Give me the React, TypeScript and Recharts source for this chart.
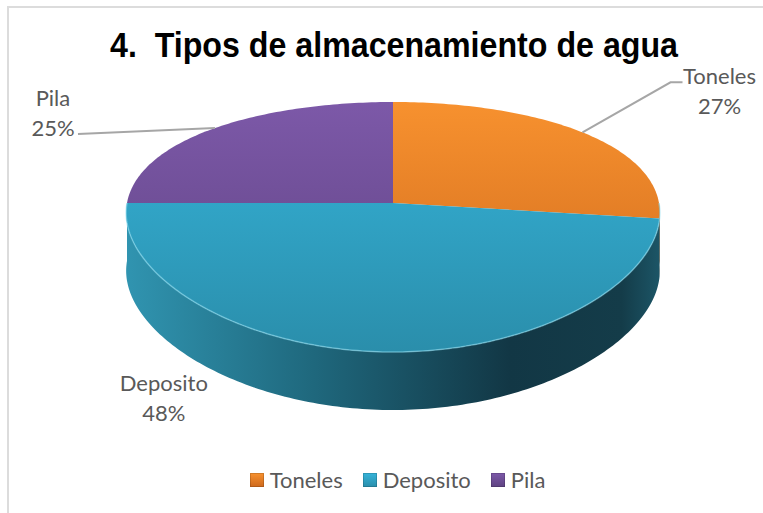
import React from 'react';
import { PieChart, Pie, Cell, Legend } from 'recharts';

const categories = ['Toneles', 'Deposito', 'Pila'];
const shares = [27, 48, 25];
const data = categories.map((name, i) => ({ name, value: shares[i] }));

// top face gradient (light, dark), side colour
const TOP = [
  ['#f8922f', '#cd681c'],
  ['#36b4da', '#2a8eab'],
  ['#7d59a9', '#5e4281'],
];
const SIDE = ['#9c4f17', '#1f6a80', '#4a3366'];

const W = 763;
const H = 513;
const DEPTH = 58;
const YK = 0.4526; // vertical squash
const YB = 0.192; // perspective
const XB = 0.08;
const FONT = 'Lato, sans-serif';

const proj = (cx: number, cy: number, R: number, deg: number) => {
  const a = (deg * Math.PI) / 180;
  const t = -Math.sin(a);
  return {
    x: cx + (R * Math.cos(a)) / (1 - XB * t),
    y: cy + (R * YK * t) / (1 - YB * t),
  };
};

const arcPts = (cx: number, cy: number, R: number, lo: number, hi: number) => {
  const pts = [];
  const n = Math.max(2, Math.ceil(hi - lo));
  for (let i = 0; i <= n; i++) pts.push(proj(cx, cy, R, lo + ((hi - lo) * i) / n));
  return pts;
};

const Slice3D = (props: any) => {
  const { cx, cy, outerRadius, startAngle, endAngle, index } = props;
  const i = index ?? categories.indexOf(props.name ?? props.payload?.name);
  const lo = Math.min(startAngle, endAngle);
  const hi = Math.max(startAngle, endAngle);
  const R = outerRadius;

  const sides: string[] = [];
  const rims: string[] = [];
  for (let k = -2; k <= 1; k++) {
    const a = Math.max(lo, -180 + 360 * k);
    const b = Math.min(hi, 360 * k);
    if (b - a <= 0.01) continue;
    const top = arcPts(cx, cy, R, a, b);
    const bot = top.map((p) => ({ x: p.x, y: p.y + DEPTH })).reverse();
    sides.push(
      'M' + top.map((p) => `${p.x},${p.y}`).join('L') + 'L' + bot.map((p) => `${p.x},${p.y}`).join('L') + 'Z'
    );
    rims.push('M' + top.map((p) => `${p.x},${p.y}`).join('L'));
  }

  const face = arcPts(cx, cy, R, lo, hi);
  const facePath = `M${cx},${cy}L` + face.map((p) => `${p.x},${p.y}`).join('L') + 'Z';

  return (
    <g>
      <defs>
        <linearGradient id={`top${i}`} x1="0" y1={cy - R * 0.4} x2="0" y2={cy + R * 0.56} gradientUnits="userSpaceOnUse">
          <stop offset="0" stopColor={TOP[i][0]} />
          <stop offset="1" stopColor={TOP[i][1]} />
        </linearGradient>
        <linearGradient id={`side${i}`} x1={cx - R} y1="0" x2={cx + R} y2="0" gradientUnits="userSpaceOnUse">
          <stop offset="0" stopColor={i === 1 ? '#3094b0' : SIDE[i]} />
          <stop offset="0.35" stopColor={i === 1 ? '#1f687d' : SIDE[i]} />
          <stop offset="0.72" stopColor={i === 1 ? '#123745' : SIDE[i]} />
          <stop offset="0.93" stopColor={i === 1 ? '#143c49' : SIDE[i]} />
          <stop offset="1" stopColor={i === 1 ? '#1c5566' : SIDE[i]} />
        </linearGradient>
      </defs>
      {sides.map((d, k) => (
        <path key={k} d={d} fill={`url(#side${i})`} />
      ))}
      <path d={facePath} fill={`url(#top${i})`} />
      {rims.map((d, k) => (
        <path key={'r' + k} d={d} fill="none" stroke="rgba(140,220,240,0.55)" strokeWidth={1.5} />
      ))}
    </g>
  );
};

// label offsets relative to the rim point at the slice middle
const LABEL_OFFSET: Record<string, { dx: number; dy: number; line?: number[] }> = {
  Toneles: { dx: 137, dy: -57, line: [88, -50, 100, -50] },
  Deposito: { dx: -211, dy: 31 },
  Pila: { dx: -162, dy: -31, line: [-137, 6] },
};

const renderLabel = (props: any) => {
  const { cx, cy, outerRadius, midAngle, name, percent } = props;
  const rim = proj(cx, cy, outerRadius, midAngle);
  const o = LABEL_OFFSET[name];
  const pts = [rim];
  if (o.line) {
    for (let k = 0; k < o.line.length; k += 2) pts.push({ x: rim.x + o.line[k], y: rim.y + o.line[k + 1] });
  }
  const tx = rim.x + o.dx;
  const ty = rim.y + o.dy;
  return (
    <g>
      {o.line && (
        <polyline
          points={pts.map((p) => `${p.x},${p.y}`).join(' ')}
          fill="none"
          stroke="#a6a6a6"
          strokeWidth={2}
        />
      )}
      <text x={tx} y={ty} textAnchor="middle" dominantBaseline="central" fill="#595959" fontSize={22} fontFamily={FONT}>
        {name}
      </text>
      <text x={tx} y={ty + 30} textAnchor="middle" dominantBaseline="central" fill="#595959" fontSize={22} fontFamily={FONT}>
        {Math.round(percent * 100)}%
      </text>
    </g>
  );
};

const renderLegend = () => (
  <div
    style={{
      display: 'flex',
      justifyContent: 'center',
      gap: 20,
      paddingLeft: 32,
      fontFamily: FONT,
      fontSize: 22,
      color: '#595959',
    }}
  >
    {categories.map((c, i) => (
      <div key={c} style={{ display: 'flex', alignItems: 'center' }}>
        <span
          style={{
            display: 'inline-block',
            width: 14,
            height: 14,
            marginRight: 6,
            background: `linear-gradient(${TOP[i][0]}, ${TOP[i][1]})`,
            boxShadow: 'inset 0 0 0 1px rgba(0,0,0,0.15)',
          }}
        />
        {c}
      </div>
    ))}
  </div>
);

export default function App() {
  return (
    <div style={{ position: 'absolute', left: 0, top: 0, width: W, height: H, background: '#fff', overflow: 'hidden' }}>
      <div
        style={{
          position: 'absolute',
          left: 7,
          top: 6,
          width: W,
          height: H,
          borderTop: '2px solid #dcdcdc',
          borderLeft: '2px solid #dcdcdc',
        }}
      />
      <svg style={{ position: 'absolute', left: 0, top: 0 }} width={W} height={80}>
        <text
          x={394}
          y={57}
          textAnchor="middle"
          fontFamily="'Liberation Sans', Arial, sans-serif"
          fontWeight="bold"
          fontSize={35}
          fill="#000"
          textLength={568}
          lengthAdjust="spacingAndGlyphs"
        >
          {'4.\u00A0 Tipos de almacenamiento de agua'}
        </text>
      </svg>
      <div style={{ position: 'absolute', left: 0, top: 0 }}>
        <PieChart width={W} height={H} margin={{ top: 0, right: 0, bottom: 0, left: 0 }}>
          <Pie
            data={data}
            dataKey="value"
            nameKey="name"
            cx={393}
            cy={203}
            outerRadius={266}
            startAngle={90}
            endAngle={-270}
            stroke="none"
            shape={Slice3D}
            label={renderLabel}
            labelLine={false}
            isAnimationActive={false}
          >
            {data.map((d, i) => (
              <Cell key={d.name} fill={TOP[i][0]} />
            ))}
          </Pie>
          <Legend content={renderLegend} wrapperStyle={{ position: 'absolute', top: 466, left: 0, width: W }} />
        </PieChart>
      </div>
    </div>
  );
}
